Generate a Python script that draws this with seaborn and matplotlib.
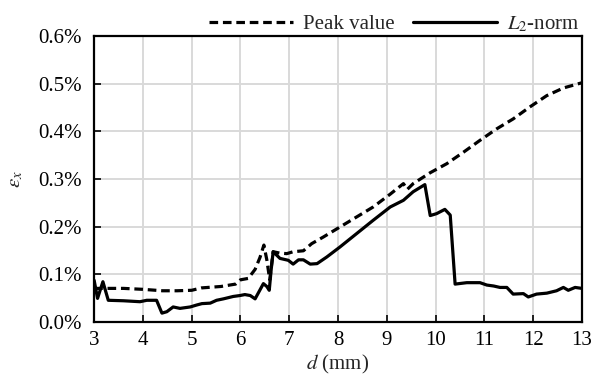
import matplotlib
matplotlib.use("Agg")
import matplotlib.pyplot as plt
import seaborn as sns
import pandas as pd
from matplotlib.ticker import PercentFormatter, MultipleLocator

# ---- data (strain in %) ----
x_peak = [3.0, 3.2, 3.6, 4.0, 4.4, 4.7, 5.0, 5.2, 5.6, 5.9, 6.0, 6.16, 6.3, 6.4, 6.48,
          6.54, 6.6, 6.67, 6.81, 6.95, 7.08, 7.29, 7.46, 7.7, 8.04, 8.38, 8.72, 9.07,
          9.34, 9.42, 9.54, 9.89, 10.23, 10.57, 10.91, 11.25, 11.59, 11.93, 12.28,
          12.62, 13.0]
y_peak = [0.070, 0.070, 0.070, 0.068, 0.065, 0.065, 0.066, 0.071, 0.074, 0.079, 0.088,
          0.091, 0.110, 0.135, 0.161, 0.130, 0.088, 0.147, 0.144, 0.143, 0.147, 0.149,
          0.164, 0.178, 0.199, 0.220, 0.241, 0.268, 0.290, 0.278, 0.290, 0.313, 0.332,
          0.356, 0.381, 0.405, 0.426, 0.451, 0.475, 0.491, 0.502]

x_l2 = [3.0, 3.07, 3.18, 3.29, 3.6, 3.94, 4.08, 4.28, 4.39, 4.49, 4.62, 4.76, 4.97, 5.10,
        5.21, 5.38, 5.51, 5.65, 5.85, 5.99, 6.09, 6.2, 6.3, 6.47, 6.54, 6.59, 6.63, 6.67,
        6.81, 6.98, 7.08, 7.19, 7.29, 7.43, 7.57, 7.77, 8.04, 8.38, 8.72, 9.07, 9.34,
        9.54, 9.78, 9.89, 10.02, 10.19, 10.3, 10.4, 10.64, 10.91, 11.05, 11.19, 11.32,
        11.46, 11.59, 11.8, 11.9, 12.07, 12.28, 12.48, 12.62, 12.72, 12.86, 13.0]
y_l2 = [0.087, 0.049, 0.084, 0.045, 0.044, 0.042, 0.045, 0.045, 0.018, 0.021, 0.031,
        0.028, 0.031, 0.035, 0.038, 0.039, 0.045, 0.048, 0.053, 0.055, 0.057, 0.055,
        0.048, 0.080, 0.074, 0.066, 0.110, 0.147, 0.133, 0.129, 0.121, 0.130, 0.130,
        0.121, 0.122, 0.136, 0.157, 0.185, 0.213, 0.241, 0.255, 0.273, 0.288, 0.223,
        0.227, 0.236, 0.224, 0.079, 0.082, 0.082, 0.077, 0.075, 0.072, 0.072, 0.058,
        0.059, 0.052, 0.058, 0.060, 0.065, 0.072, 0.066, 0.072, 0.070]

series_names = ["Peak value", "$L_2$-norm"]
x_ticks = [3, 4, 5, 6, 7, 8, 9, 10, 11, 12, 13]

df = pd.concat([
    pd.DataFrame({"d": x_peak, "eps": y_peak, "series": series_names[0]}),
    pd.DataFrame({"d": x_l2, "eps": y_l2, "series": series_names[1]}),
], ignore_index=True)

sns.set_theme(style="ticks")
plt.rcParams["font.family"] = ["Liberation Serif", "DejaVu Serif"]
plt.rcParams["mathtext.fontset"] = "stix"

FS = 15

fig = plt.figure(figsize=(5.92, 3.76), dpi=100)
ax = fig.add_axes([0.159, 0.1444, 0.824, 0.7596])

sns.lineplot(data=df, x="d", y="eps", hue="series", style="series",
             palette=["black", "black"], dashes={series_names[0]: (2.7, 1.5), series_names[1]: ""},
             linewidth=2.3, sort=False, estimator=None, ax=ax)

ax.set_xlim(3, 13)
ax.set_ylim(0, 0.6)
ax.set_xticks(x_ticks)
ax.yaxis.set_major_locator(MultipleLocator(0.1))
ax.yaxis.set_major_formatter(PercentFormatter(xmax=100, decimals=1))
ax.grid(True, color="#d9d9d9", linewidth=1.4)
ax.set_axisbelow(True)
for s in ax.spines.values():
    s.set_visible(True)
    s.set_color("black")
    s.set_linewidth(1.6)
ax.tick_params(direction="in", length=5, width=1.2, colors="black", labelsize=FS)
ax.tick_params(axis="y", pad=9)
ax.tick_params(axis="x", pad=7)
ax.set_xlabel("$d$ (mm)", fontsize=FS, labelpad=2)
ax.set_ylabel(r"$\varepsilon_x$", fontsize=FS, labelpad=9)

handles, labels = ax.get_legend_handles_labels()
leg = ax.legend(handles, labels, loc="lower right", bbox_to_anchor=(1.0, 1.0), ncol=2,
                frameon=False, fontsize=FS, handlelength=4.0, handletextpad=0.5,
                columnspacing=0.9, borderaxespad=0.0, borderpad=0.1)
for h in leg.get_lines():
    h.set_linewidth(2.3)

fig.savefig("out.png", dpi=100)
